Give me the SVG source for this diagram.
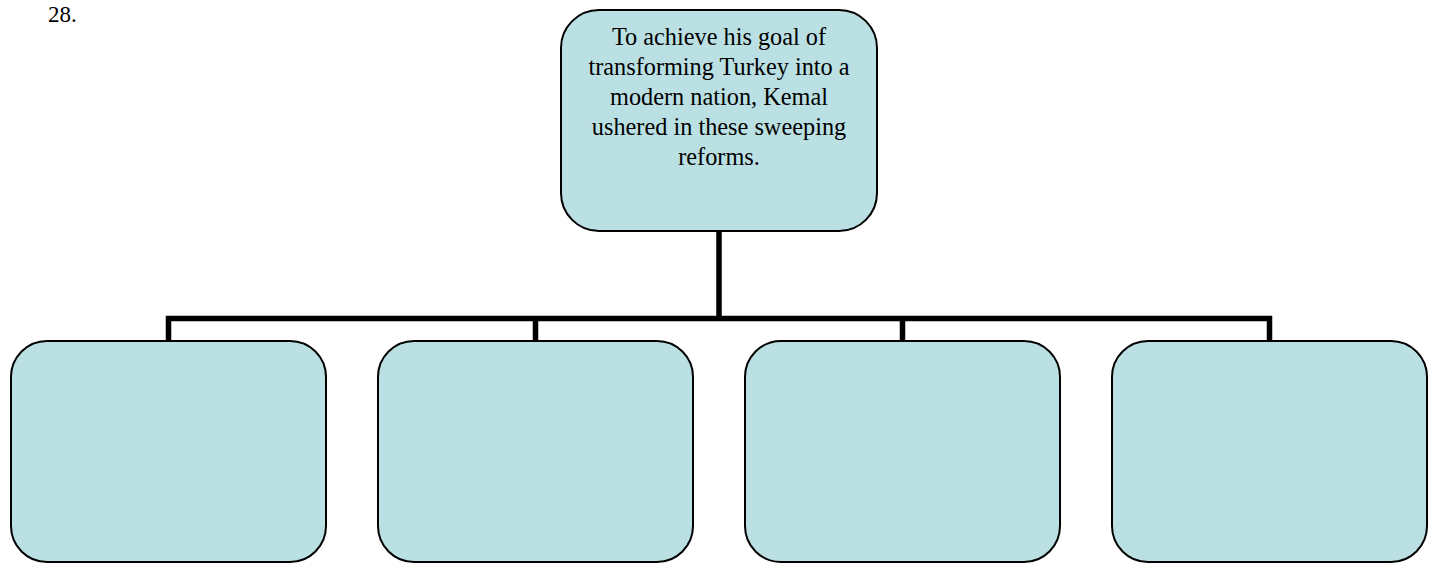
<svg xmlns="http://www.w3.org/2000/svg" width="1437" height="571" viewBox="0 0 1437 571">
<style>
.node{fill:#BBE0E3;stroke:#000;stroke-width:2}
.conn{fill:none;stroke:#000;stroke-width:5.5;stroke-linecap:butt;stroke-linejoin:miter}
.t{font-family:"Liberation Serif","Times New Roman",serif;font-size:24.3px;fill:#000;text-anchor:middle}
.num{font-family:"Liberation Serif","Times New Roman",serif;font-size:23px;fill:#000}
</style>
<rect width="1437" height="571" fill="#fff"/>
<text class="num" x="48" y="22">28.</text>
<g id="connectors">
<path class="conn" d="M719,230 V318.5"/>
<path class="conn" d="M168.5,341 V318.5 H1269.5 V341"/>
<path class="conn" d="M535.5,318.5 V341"/>
<path class="conn" d="M902.5,318.5 V341"/>
</g>
<g id="root">
<rect class="node" x="561" y="10" width="316" height="221" rx="38" ry="38"/>
<text class="t" x="719" y="44.5">To achieve his goal of</text>
<text class="t" x="719" y="74.5">transforming Turkey into a</text>
<text class="t" x="719" y="105">modern nation, Kemal</text>
<text class="t" x="719" y="135">ushered in these sweeping</text>
<text class="t" x="719" y="165">reforms.</text>
</g>
<g id="child1"><rect class="node" x="11" y="341" width="315" height="221" rx="36" ry="36"/></g>
<g id="child2"><rect class="node" x="378" y="341" width="315" height="221" rx="36" ry="36"/></g>
<g id="child3"><rect class="node" x="745" y="341" width="315" height="221" rx="36" ry="36"/></g>
<g id="child4"><rect class="node" x="1112" y="341" width="315" height="221" rx="36" ry="36"/></g>
</svg>
